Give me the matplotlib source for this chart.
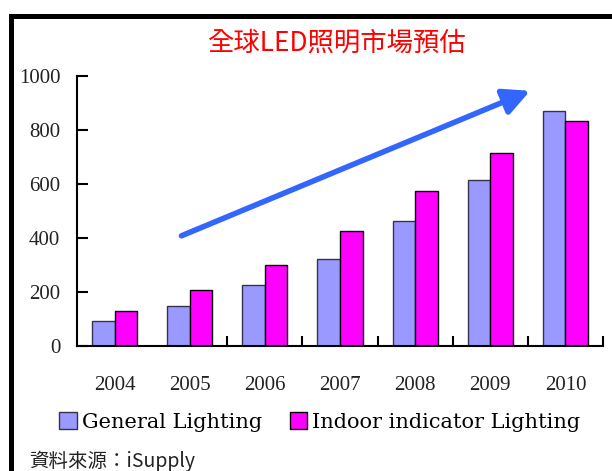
import matplotlib
matplotlib.use('Agg')
import matplotlib.pyplot as plt
from matplotlib.patches import Rectangle
import numpy as np

# datos
years = ['2004', '2005', '2006', '2007', '2008', '2009', '2010']
general = [91, 147, 225, 322, 463, 614, 869]
indoor = [130, 207, 298, 426, 573, 712, 833]
yticks = [0, 200, 400, 600, 800, 1000]

title = '全球LED照明市場預估'
source = '資料來源：iSupply'
labels = ['General Lighting', 'Indoor indicator Lighting']

W, H = 612, 471
fig = plt.figure(figsize=(W / 100, H / 100), dpi=100)
fig.patch.set_facecolor('white')

# marco negro exterior
fig.patches.append(Rectangle((10.5 / W, -0.05), 1.1, 1 - 15.5 / H + 0.05,
                             transform=fig.transFigure, fill=False,
                             edgecolor='black', linewidth=3.6))

ax = fig.add_axes([77 / W, 1 - 345.7 / H, (603 - 77) / W, (345.7 - 75.7) / H])
x = np.arange(len(years))
w = 0.3
ax.bar(x - w / 2, general, w, color='#9999ff', edgecolor='#33334d', linewidth=1.0,
       label=labels[0], zorder=2)
ax.bar(x + w / 2, indoor, w, color='#ff00ff', edgecolor='black', linewidth=1.0,
       label=labels[1], zorder=2)

ax.set_xlim(-0.5, len(years) - 0.5)
ax.set_ylim(0, 1000)
for s in ['top', 'right']:
    ax.spines[s].set_visible(False)
for s in ['left', 'bottom']:
    ax.spines[s].set_linewidth(1.5)

ax.set_yticks(yticks)
ax.set_yticklabels([str(v) for v in yticks], family='Liberation Serif', fontsize=15, color='#222222')
ax.tick_params(axis='y', direction='in', length=8, width=1.5, pad=12)

ax.set_xticks(x[1:] + 0.5)
ax.set_xticklabels([])
ax.tick_params(axis='x', which='major', direction='in', length=7, width=1.5)
ax.set_xticks(x, minor=True)
ax.set_xticklabels(years, minor=True, family='Liberation Serif', fontsize=15, color='#222222')
ax.tick_params(axis='x', which='minor', length=0, pad=22)

# flecha de tendencia
ax.annotate('', xy=(5.53, 944), xytext=(0.89, 407),
            arrowprops=dict(arrowstyle='-|>', color='#3366ff', lw=4,
                            mutation_scale=40, shrinkA=0, shrinkB=0),
            zorder=3)

fig.text(336 / W, 1 - 43 / H, title, ha='center', va='center', color='#ff0000',
         fontsize=19, family=['Noto Sans CJK TC', 'DejaVu Sans'])

fig.legend(loc='center', bbox_to_anchor=(320 / W, 1 - 422 / H), ncol=2, frameon=False,
           prop={'family': 'DejaVu Serif', 'size': 15}, handlelength=0.85,
           handleheight=0.9, handletextpad=0.25, columnspacing=1.3)

fig.text(29 / W, 1 - 461 / H, source, ha='left', va='center', color='#222222',
         fontsize=14, family=['Noto Sans CJK TC', 'DejaVu Sans'])

fig.savefig('out.png', dpi=100)
